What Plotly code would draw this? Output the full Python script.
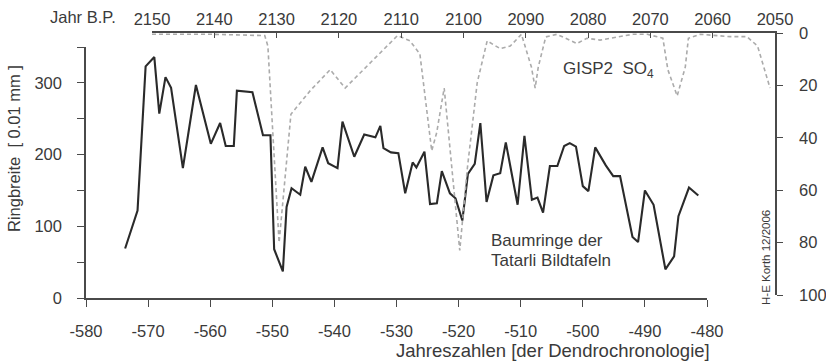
import plotly.graph_objects as go

W, H = 826, 362

# Tree-ring widths (Tatarli Bildtafeln), bottom/left axes
tree_years = [-573.7, -571.7, -570.4, -569.0, -568.2, -567.2, -566.3, -564.4, -562.3, -559.9,
              -558.4, -557.5, -556.2, -555.7, -553.2, -551.5, -550.3, -549.7, -548.3, -547.7,
              -546.9, -545.5, -544.7, -543.7, -541.9, -541.0, -539.5, -538.7, -536.8, -535.2,
              -533.4, -532.6, -532.1, -530.9, -529.7, -528.6, -527.4, -526.8, -525.5, -524.6,
              -523.5, -522.7, -521.4, -520.5, -519.4, -518.5, -517.4, -516.5, -515.5, -514.4,
              -513.3, -512.4, -510.5, -509.4, -508.2, -507.3, -506.4, -505.3, -504.1, -503.0,
              -502.1, -501.1, -500.0, -499.1, -498.0, -496.3, -495.1, -494.0, -492.0, -491.1,
              -490.0, -488.6, -486.7, -485.3, -484.6, -482.9, -481.4]
tree_width = [69, 122, 323, 336, 257, 308, 293, 181, 297, 215,
              244, 212, 212, 289, 287, 227, 227, 68, 37, 127,
              153, 144, 183, 162, 210, 188, 181, 246, 197, 228,
              224, 240, 209, 203, 202, 146, 189, 182, 204, 131,
              132, 177, 146, 139, 108, 173, 187, 244, 134, 171,
              174, 217, 130, 226, 137, 140, 119, 184, 184, 212,
              216, 211, 156, 149, 210, 185, 170, 170, 85, 78,
              150, 130, 40, 58, 114, 154, 143]

# GISP2 SO4, top/right axes (right axis reversed)
gisp_bp = [2150, 2140.2, 2131.9, 2131.4, 2129.6, 2127.7, 2124.6, 2121.4, 2119.0, 2110.6,
           2108.6, 2107.0, 2105.1, 2104.3, 2103.1, 2100.6, 2099.4, 2097.8, 2096.2, 2094.1,
           2092.5, 2090.7, 2089.1, 2088.5, 2088.0, 2086.8, 2085.0, 2081.8, 2080.2, 2078.1,
           2072.8, 2070.5, 2068.0, 2067.2, 2065.7, 2064.4, 2063.9, 2062.0, 2057.2, 2054.5,
           2052.8, 2050.8]
gisp_so4 = [0.5, 0.5, 1, 5, 80, 31, 22, 14, 21, 1,
            3, 8, 45, 38, 21, 83, 52, 19, 3, 6,
            5, 0.5, 13, 21, 13, 1.5, 0.5, 4, 2, 2.7,
            0.5, 0.5, 2, 14, 24, 13, 2, 0.5, 1.4, 1.4,
            5, 21]

bottom_ticks = list(range(-580, -479, 10))
bottom_labels = [str(v) for v in bottom_ticks]  # plain hyphen minus, as in the original
top_ticks = list(range(2150, 2049, -10))
right_ticks = [0, 20, 40, 60, 80, 100]
left_ticks = [0, 100, 200, 300]

FONT = "Liberation Sans, Arial, sans-serif"
AX = "#4a4a4a"
TXT = "#3a3a3a"


def px(x):
    return x / W


def py(y):
    return 1 - y / H


fig = go.Figure()
fig.add_trace(go.Scatter(x=gisp_bp, y=gisp_so4, xaxis="x2", yaxis="y2", mode="lines",
                         line=dict(color="#ababab", width=1.6, dash="4px,3px"),
                         showlegend=False, hoverinfo="skip"))
fig.add_trace(go.Scatter(x=tree_years, y=tree_width, xaxis="x", yaxis="y", mode="lines",
                         line=dict(color="#2a2a2a", width=2.1),
                         showlegend=False, hoverinfo="skip"))

tickfont = dict(family=FONT, size=16.5, color=TXT)

fig.update_layout(
    template="none",
    width=W, height=H, autosize=False,
    margin=dict(l=0, r=0, t=0, b=0, pad=0),
    paper_bgcolor="white", plot_bgcolor="rgba(0,0,0,0)",
    xaxis=dict(domain=[px(86), px(707)], range=[-580, -480], anchor="y",
               tickvals=bottom_ticks, ticktext=bottom_labels,
               ticks="outside", ticklen=7, tickwidth=1.3,
               tickcolor=AX, showline=True, linecolor=AX, linewidth=1.5,
               showgrid=False, zeroline=False, automargin=False,
               tickfont=tickfont, ticklabelstandoff=10),
    yaxis=dict(domain=[py(298), py(47)], range=[0, 350], anchor="x",
               tickvals=left_ticks, ticks="outside", ticklen=7, tickwidth=1.3,
               tickcolor=AX, showline=True, linecolor=AX, linewidth=1.5,
               minor=dict(dtick=50, tick0=0, ticks="outside", ticklen=7,
                          tickwidth=1.3, tickcolor=AX),
               showgrid=False, zeroline=False, automargin=False,
               tickfont=tickfont, ticklabelstandoff=12),
    xaxis2=dict(domain=[px(152), px(775)], range=[2150, 2050], anchor="y2", side="top",
                tickvals=top_ticks, ticks="inside", ticklen=5, tickwidth=1.3,
                tickcolor=AX, showline=True, linecolor=AX, linewidth=1.5,
                showgrid=False, zeroline=False, automargin=False,
                tickfont=tickfont, ticklabelstandoff=0),
    yaxis2=dict(domain=[py(295), py(33)], range=[100, 0], anchor="x2", side="right",
                tickvals=right_ticks, ticks="outside", ticklen=6, tickwidth=1.3,
                tickcolor=AX, showline=True, linecolor=AX, linewidth=1.5,
                showgrid=False, zeroline=False, automargin=False,
                tickfont=tickfont, ticklabelstandoff=13),
)

ann = [
    dict(text="Jahr B.P.", x=px(83), y=py(17), size=16.5, xanchor="center", yanchor="middle"),
    dict(text="Ringbreite  [ 0.01 mm ]", x=px(14), y=py(149), size=16.5, xanchor="center",
         yanchor="middle", textangle=-90),
    dict(text="Jahreszahlen [der Dendrochronologie]", x=px(553), y=py(350), size=18.5,
         xanchor="center", yanchor="middle"),
    dict(text="GISP2  SO<sub>4</sub>", x=px(562), y=py(70), size=17, xanchor="left",
         yanchor="middle"),
    dict(text="Baumringe der", x=px(490), y=py(251), size=17, xanchor="left", yanchor="bottom"),
    dict(text="Tatarli Bildtafeln", x=px(490), y=py(250), size=17, xanchor="left", yanchor="top"),
    dict(text="H-E Korth 12/2006", x=px(766), y=py(258), size=11.5, xanchor="center",
         yanchor="middle", textangle=-90),
]
for a in ann:
    fig.add_annotation(xref="paper", yref="paper", x=a["x"], y=a["y"], text=a["text"],
                       showarrow=False, xanchor=a["xanchor"], yanchor=a["yanchor"],
                       textangle=a.get("textangle", 0), borderpad=0,
                       font=dict(family=FONT, size=a["size"], color=TXT))

fig.write_html("out.html")
